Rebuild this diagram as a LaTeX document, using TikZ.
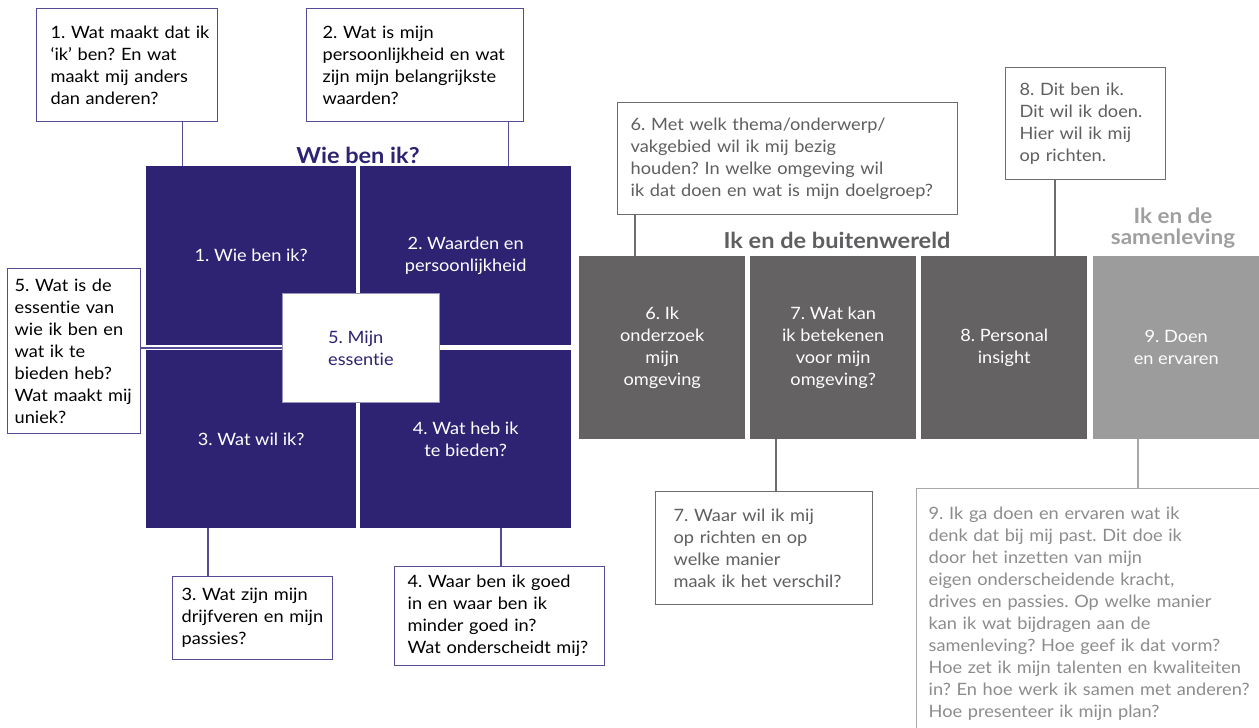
\documentclass[tikz,border=0pt]{standalone}
\usepackage{fontspec}
\setmainfont{Lato}[FakeStretch=1.07, Ligatures=NoCommon]
\frenchspacing
\definecolor{wpurple}{RGB}{45,35,114}
\definecolor{wborder}{RGB}{85,75,150}
\definecolor{wdgray}{RGB}{100,98,99}
\definecolor{wlgray}{RGB}{157,156,156}
\definecolor{wtgray}{RGB}{95,94,96}
\definecolor{wbgray}{RGB}{110,109,110}
\definecolor{wninegray}{RGB}{168,168,168}
\definecolor{wninetext}{RGB}{140,140,140}
\definecolor{wsgray}{RGB}{160,159,159}
\begin{document}
\begin{tikzpicture}[x=1pt,y=-1pt,
  txt/.style={font=\fontsize{17}{22}\selectfont},
  pbox/.style={txt, draw=wborder, line width=1.3pt, fill=white, anchor=north west, align=left, inner ysep=0pt, text=black},
  gbox/.style={txt, draw=wbgray, line width=1.3pt, fill=white, anchor=north west, align=left, inner ysep=0pt, text=wtgray},
  ninebox/.style={txt, draw=wninegray, line width=1.3pt, fill=white, anchor=north west, align=left, inner ysep=0pt, text=wninetext},
  quad/.style={txt, fill=wpurple, text=white, anchor=north west, align=center, inner sep=0pt},
  blk/.style={txt, fill=wdgray, text=white, anchor=north west, align=center, inner sep=0pt, minimum width=166pt, minimum height=183pt},
  plink/.style={draw=wborder, line width=1.3pt},
  glink/.style={draw=wbgray, line width=1.3pt},
  ninelink/.style={draw=wninegray, line width=1.3pt},
]
\path[fill=white, use as bounding box] (0,0) rectangle (1259,728);

% purple quadrants
\node[quad, minimum width=210pt, minimum height=179pt] (q1) at (146,166) {1. Wie ben ik?};
\node[quad, minimum width=211pt, minimum height=179pt] (q2) at (360,166) {2. Waarden en\\persoonlijkheid};
\node[quad, minimum width=210pt, minimum height=178pt] (q3) at (146,350) {3. Wat wil ik?};
\node[quad, minimum width=211pt, minimum height=178pt] (q4) at (360,350) {4. Wat heb ik\\te bieden?};
\node[txt, draw=wborder!60, line width=0.8pt, fill=white, text=wpurple, align=left, minimum width=157pt, minimum height=109pt, anchor=north west, inner sep=0pt] (ess) at (282,293) {5. Mijn\\essentie};

\node[font=\fontsize{22}{24}\selectfont\bfseries, text=wpurple] (t1) at (358,155) {Wie ben ik?};

% purple question boxes
\node[pbox, text width=153pt, inner xsep=14pt, minimum width=181pt, minimum height=113pt] (b1) at (36,8) {1.~Wat~maakt~dat~ik\\‘ik’~ben?~En~wat\\maakt~mij~anders\\dan~anderen?};
\node[pbox, text width=185pt, inner xsep=16pt, minimum width=217pt, minimum height=113pt] (b2) at (306,8) {2.~Wat~is~mijn\\persoonlijkheid~en~wat\\zijn~mijn~belangrijkste\\waarden?};
\node[pbox, text width=119pt, inner xsep=7pt, minimum width=133pt, minimum height=165pt] (b5) at (7,268) {5.~Wat~is~de\\essentie~van\\wie~ik~ben~en\\wat~ik~te\\bieden~heb?\\Wat~maakt~mij\\uniek?};
\node[pbox, text width=142pt, inner xsep=9pt, minimum width=160pt, minimum height=83pt] (b3) at (172,576) {3.~Wat~zijn~mijn\\drijfveren~en~mijn\\passies?};
\node[pbox, text width=184pt, inner xsep=13pt, minimum width=210pt, minimum height=99pt] (b4) at (394,566) {4.~Waar~ben~ik~goed\\in~en~waar~ben~ik\\minder~goed~in?\\Wat~onderscheidt~mij?};

% gray blocks
\node[blk] (g6) at (579,256) {6. Ik\\onderzoek\\mijn\\omgeving};
\node[blk] (g7) at (750,256) {7. Wat kan\\ik betekenen\\voor mijn\\omgeving?};
\node[blk] (g8) at (921,256) {8. Personal\\insight};
\node[blk, fill=wlgray] (g9) at (1093,256) {9. Doen\\en ervaren};

\node[font=\fontsize{22}{24}\selectfont\bfseries, text=wtgray] (t2) at (837,240) {Ik en de buitenwereld};
\node[font=\fontsize{21}{21}\selectfont\bfseries, text=wsgray, align=center] (t3) at (1173,228) {Ik en de\\samenleving};

% gray question boxes
\node[gbox, text width=314pt, inner xsep=13pt, minimum width=340pt, minimum height=112pt] (b6) at (617,102) {6.~Met~welk~thema/onderwerp/\\vakgebied~wil~ik~mij~bezig\\houden?~In~welke~omgeving~wil\\ik~dat~doen~en~wat~is~mijn~doelgroep?};
\node[gbox, text width=181pt, inner xsep=18pt, minimum width=217pt, minimum height=113pt] (b7) at (655,491) {7.~Waar~wil~ik~mij\\op~richten~en~op\\welke~manier\\maak~ik~het~verschil?};
\node[gbox, text width=132pt, inner xsep=14pt, minimum width=160pt, minimum height=112pt] (b8) at (1005,67) {8.~Dit~ben~ik.\\Dit~wil~ik~doen.\\Hier~wil~ik~mij\\op~richten.};
\node[ninebox, text width=326pt, inner xsep=12pt, minimum width=350pt, minimum height=250pt] (b9) at (916,488) {9.~Ik~ga~doen~en~ervaren~wat~ik\\denk~dat~bij~mij~past.~Dit~doe~ik\\door~het~inzetten~van~mijn\\eigen~onderscheidende~kracht,\\drives~en~passies.~Op~welke~manier\\kan~ik~wat~bijdragen~aan~de\\samenleving?~Hoe~geef~ik~dat~vorm?\\Hoe~zet~ik~mijn~talenten~en~kwaliteiten\\in?~En~hoe~werk~ik~samen~met~anderen?\\Hoe~presenteer~ik~mijn~plan?};

% connectors
\draw[plink] ([xshift=-36pt]b1.south east) coordinate (c1) -- (c1 |- q1.north);
\draw[plink] ([xshift=-16pt]b2.south east) coordinate (c2) -- (c2 |- q2.north);
\draw[plink] (ess.west -| b5.east) -- (ess.west);
\draw[plink] ([xshift=36pt]b3.north west) coordinate (c3) -- (c3 |- q3.south);
\draw[plink] ([xshift=107pt]b4.north west) coordinate (c4) -- (c4 |- q4.south);
\draw[glink] ([xshift=18pt]b6.south west) coordinate (c6) -- (c6 |- g6.north);
\draw[glink] ([xshift=26pt]g7.south west) coordinate (c7) -- (c7 |- b7.north);
\draw[glink] ([xshift=50pt]b8.south west) coordinate (c8) -- (c8 |- g8.north);
\draw[ninelink] ([xshift=45pt]g9.south west) coordinate (c9) -- (c9 |- b9.north);
\end{tikzpicture}
\end{document}
